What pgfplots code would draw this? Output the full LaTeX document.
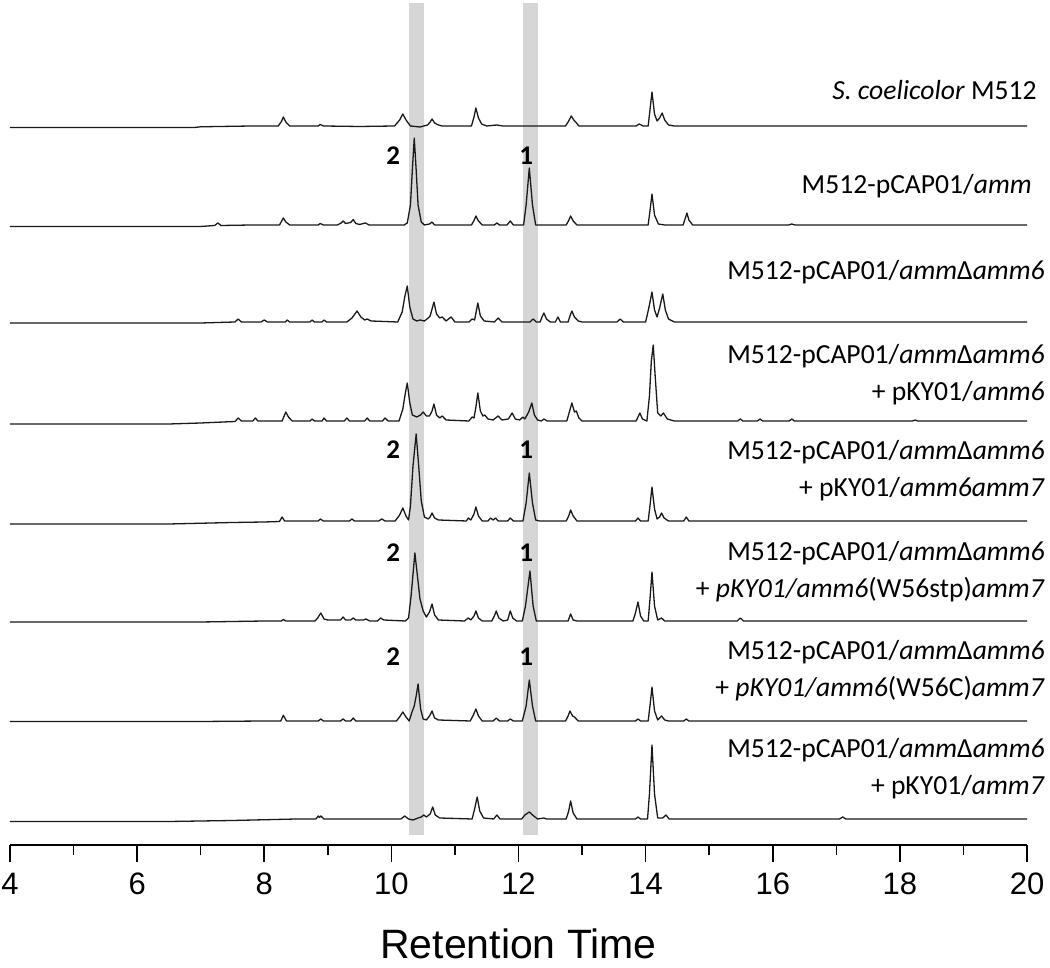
\documentclass[border=0pt]{standalone}
\usepackage{pgfplots}
\pgfplotsset{compat=1.18}
\usepackage{fontspec}
\setmainfont{Liberation Sans}
\newfontfamily\calfont{Carlito}
\definecolor{band}{HTML}{D6D6D6}
\begin{document}
\begin{tikzpicture}
\begin{axis}[
  scale only axis, width=508.5pt, height=422.5pt,
  xmin=4, xmax=20, ymin=0, ymax=845,
  axis x line*=bottom, hide y axis, clip=false,
  xtick={4,6,...,20}, minor xtick={5,7,...,19},
  tick align=outside, major tick length=8.5pt, minor tick length=5pt,
  every tick/.style={black, line width=0.8pt},
  x axis line style={line width=1.3pt},
  xticklabel style={font=\fontsize{15.5}{18}\selectfont, yshift=-2pt},
  /pgf/number format/assume math mode=true,
  xlabel={Retention Time},
  xlabel style={at={(axis description cs:0.5,0)}, anchor=center, yshift=-49.5pt, font=\fontsize{20.5}{24}\selectfont},
]
\addplot[fill=band, draw=none] coordinates {(10.28,10) (10.51,10) (10.51,842) (10.28,842)} -- cycle;
\addplot[fill=band, draw=none] coordinates {(12.07,10) (12.30,10) (12.30,842) (12.07,842)} -- cycle;

\pgfplotsset{trace/.style={black!90, line width=0.65pt, line join=round}}
% Trace 1
\addplot[trace] table[y expr=\thisrowno{1}+719] {
4.00 -1.5
6.9 -1.5
7.0 -0.8
7.8 0
8.22 0
8.27 4.5
8.30 9
8.34 4
8.40 0
8.85 0
8.88 1.5
8.93 0
9.5 -0.5
10.05 0
10.13 6
10.18 12
10.23 6
10.30 0
10.45 -1
10.57 1
10.61 4
10.64 7
10.68 3
10.74 1
10.80 0
11.26 0
11.30 9
11.33 18
11.37 8
11.42 2
11.50 0
11.66 1
11.75 0
12.74 0
12.79 5
12.83 10
12.87 6
12.90 4
12.95 0
13.85 0
13.90 2
13.96 0
14.04 0
14.07 17
14.10 34
14.14 12
14.18 5
14.22 8
14.26 13
14.30 6
14.36 1
14.45 0
20.00 0
};
% Trace 2
\addplot[trace] table[y expr=\thisrowno{1}+620] {
4.00 -1.5
7.0 -1.5
7.22 -0.5
7.27 2
7.32 -0.5
7.8 0
8.24 0
8.27 3.5
8.30 7
8.34 3
8.40 0
8.85 0
8.88 1.5
8.93 0
9.15 0
9.21 2
9.24 4
9.28 1.5
9.36 2.5
9.40 5.5
9.44 1.5
9.50 0.5
9.59 2
9.65 0
10.20 0
10.25 2
10.30 20
10.33 55
10.36 87
10.39 55
10.42 20
10.47 3
10.52 0
10.60 1
10.64 3
10.68 0
11.26 0
11.30 4.5
11.33 9
11.37 4
11.43 0
11.62 0
11.66 2
11.70 0
11.82 0
11.87 4
11.92 0
12.08 0
12.12 20
12.17 57
12.22 20
12.27 0
12.75 0
12.79 4.5
12.82 9
12.86 4
12.92 0
14.04 0
14.07 15
14.10 31
14.14 10
14.20 1
14.30 0
14.59 0
14.62 6
14.65 12
14.68 5
14.74 0
16.25 0
16.30 1
16.35 0
20 0
};
% Trace 3
\addplot[trace] table[y expr=\thisrowno{1}+523] {
4.0 -1
7.0 -1
7.54 0
7.59 3
7.64 0
7.95 0
8.00 2
8.05 0
8.33 0
8.36 2
8.40 0
8.72 0
8.75 2
8.79 0
8.91 0
8.94 2
8.98 0
9.30 0
9.38 4
9.46 11
9.52 5
9.58 2
9.62 3
9.68 1
10.10 0
10.17 10
10.21 25
10.25 36
10.29 15
10.34 3
10.40 1
10.45 2
10.52 1
10.58 4
10.61 6
10.67 20
10.71 8
10.76 4
10.80 5
10.86 1
10.94 5
11.00 0
11.22 0
11.27 3
11.31 2
11.36 19
11.40 6
11.46 1
11.62 0
11.68 4
11.74 0
12.18 0
12.23 3
12.28 0
12.34 0
12.37 5
12.40 9
12.44 3
12.50 0
12.58 0
12.62 5
12.66 0
12.78 0
12.81 6
12.84 11
12.88 5
12.94 1
13.00 0
13.55 0
13.60 3
13.65 0
14.00 0
14.05 14
14.10 30
14.14 12
14.18 5
14.22 14
14.27 28
14.31 12
14.36 3
14.45 0
20 0
};
% Trace 4
\addplot[trace] table[y expr=\thisrowno{1}+424] {
4.0 -3
6.5 -3
7.0 -2
7.54 -0.5
7.59 3
7.64 0
7.82 0
7.86 3
7.90 0
8.28 0
8.31 4.5
8.34 9
8.38 4
8.44 0
8.72 0
8.75 2
8.79 0
8.91 0
8.94 3
8.98 0
9.26 0
9.30 3
9.34 0
9.58 0
9.62 3
9.66 0
9.86 0
9.90 3
9.95 0
10.12 0
10.18 12
10.22 28
10.25 38
10.29 18
10.33 6
10.40 4
10.46 6
10.50 9
10.55 5
10.60 5
10.64 10
10.67 17
10.71 6
10.76 3
10.80 5
10.86 1
11.22 0
11.27 4
11.30 3
11.33 14
11.36 28
11.40 10
11.44 5
11.47 6
11.52 2
11.60 1
11.68 5
11.74 1
11.84 2
11.90 8
11.95 2
12.02 1
12.07 4
12.10 2
12.16 9
12.21 18
12.25 6
12.30 1
12.36 0
12.40 2
12.45 0
12.76 0
12.80 9
12.84 18
12.88 9
12.91 10
12.95 3
13.00 0
13.85 0
13.88 4
13.91 8
13.95 2
14.02 0
14.06 25
14.09 60
14.12 76
14.15 45
14.19 8
14.24 5
14.28 8
14.34 2
14.45 0
15.45 0
15.49 2
15.53 0
15.76 0
15.80 2
15.84 0
16.26 0
16.30 2
16.34 0
18.20 0
18.24 1
18.28 0
20 0
};
% Trace 5
\addplot[trace] table[y expr=\thisrowno{1}+324] {
4.0 -3
6.5 -3
7.5 -1.5
8.0 -1
8.24 -0.5
8.28 4
8.32 0
8.85 0
8.88 2
8.93 0
9.34 0
9.38 2
9.42 0
9.80 0
9.85 2
9.90 0
10.06 0
10.13 6
10.18 13
10.23 5
10.27 1
10.30 15
10.34 55
10.39 87
10.43 55
10.47 20
10.52 4
10.58 2
10.61 4
10.64 8
10.68 3
10.74 1
11.18 0
11.21 3
11.25 1
11.30 7
11.33 14
11.37 5
11.43 0
11.52 0
11.56 3
11.60 1
11.64 3
11.68 0
11.83 0
11.87 3
11.92 0
12.07 0
12.12 18
12.17 48
12.22 18
12.27 1
12.33 0
12.75 0
12.79 5
12.82 11
12.86 5
12.92 0
13.84 0
13.88 3
13.92 0
14.04 0
14.07 16
14.10 34
14.14 12
14.18 2
14.22 4
14.25 8
14.29 3
14.36 0
14.60 0
14.64 4
14.68 0
20 0
};
% Trace 6
\addplot[trace] table[y expr=\thisrowno{1}+224] {
4.0 -1
7.0 -1
8.0 0
8.27 0
8.30 1.5
8.34 0
8.80 0
8.84 3
8.89 8
8.94 2
9.00 1
9.20 1
9.24 4
9.28 1
9.36 1
9.40 3
9.44 1
9.56 1
9.60 2
9.66 0
9.78 0
9.83 3
9.88 1
10.22 0
10.27 3
10.31 25
10.37 68
10.41 45
10.45 22
10.50 10
10.55 4
10.60 9
10.64 17
10.68 6
10.74 1
11.15 0
11.21 3
11.25 1
11.30 5
11.33 10
11.37 3
11.43 0
11.58 0
11.62 5
11.65 10
11.69 3
11.76 0
11.83 1
11.87 10
11.91 3
11.97 0
12.06 0
12.11 15
12.18 50
12.23 15
12.28 0
12.78 0
12.82 7
12.86 1
12.92 0
13.80 0
13.84 8
13.88 19
13.92 5
13.97 0
14.04 0
14.07 23
14.10 49
14.14 15
14.19 1
14.25 3
14.30 0
15.44 0
15.49 3
15.54 0
20 0
};
% Trace 7
\addplot[trace] table[y expr=\thisrowno{1}+124] {
4.0 -0.5
7.0 -0.5
8.0 0
8.26 0
8.30 5.7
8.35 0
8.85 0
8.89 2
8.93 0
9.20 0
9.24 2
9.28 0
9.36 0
9.40 3
9.44 0
10.08 0
10.14 5
10.18 9
10.23 4
10.28 0
10.33 10
10.36 15
10.39 25
10.42 37
10.46 12
10.50 2
10.55 1
10.60 5
10.64 10
10.68 3
10.74 1
11.24 0
11.29 6
11.33 12
11.37 5
11.43 0
11.60 0
11.65 3
11.70 0
11.83 0
11.87 2
11.92 0
12.06 0
12.12 15
12.17 41
12.22 15
12.27 0
12.74 0
12.78 5
12.81 10
12.85 5
12.88 4
12.94 0
13.84 0
13.88 2
13.92 0
14.04 0
14.07 16
14.10 34
14.14 10
14.19 1
14.25 5
14.30 1
14.36 0
14.60 0
14.64 2
14.68 0
20 0
};
% Trace 8
\addplot[trace] table[y expr=\thisrowno{1}+26] {
4.0 -2.5
6.5 -2.5
7.5 -1.5
8.5 0
8.81 0
8.85 3
8.87 1.5
8.89 3
8.94 0
10.15 0
10.21 3
10.27 0
10.34 -1
10.42 1
10.47 2
10.51 4
10.55 2
10.61 5
10.65 12
10.69 4
10.76 1
11.27 0
11.31 10
11.35 22
11.39 8
11.45 1
11.61 0
11.66 4
11.71 0
12.05 0
12.10 4
12.17 7
12.24 3
12.30 0
12.40 1
12.44 0
12.75 0
12.79 8
12.82 18
12.86 6
12.92 0
13.84 0
13.88 2
13.92 0
14.03 0
14.06 25
14.10 74
14.14 25
14.19 1
14.27 1
14.32 4
14.37 0
17.05 0
17.10 2
17.15 0
20 0
};

% Trace labels
\tikzset{lab/.style={anchor=base east, inner sep=0pt, font=\calfont\fontsize{13.8}{16}\selectfont},
         num/.style={anchor=center, inner sep=0pt, font=\calfont\bfseries\fontsize{13.5}{16}\selectfont}}
\node[lab] at (axis cs:20.158,745) {\textit{S. coelicolor} M512};
\node[lab] at (axis cs:20.08,651) {M512-pCAP01/\textit{amm}};
\node[lab] at (axis cs:20.284,565) {M512-pCAP01/\textit{amm}Δ\textit{amm6}};
\node[lab] at (axis cs:20.284,481) {M512-pCAP01/\textit{amm}Δ\textit{amm6}};
\node[lab] at (axis cs:20.284,444) {+ pKY01/\textit{amm6}};
\node[lab] at (axis cs:20.284,385) {M512-pCAP01/\textit{amm}Δ\textit{amm6}};
\node[lab] at (axis cs:20.284,348) {+ pKY01/\textit{amm6amm7}};
\node[lab] at (axis cs:20.284,284) {M512-pCAP01/\textit{amm}Δ\textit{amm6}};
\node[lab] at (axis cs:20.284,247) {+ \textit{pKY01/amm6}(W56stp)\textit{amm7}};
\node[lab] at (axis cs:20.284,185) {M512-pCAP01/\textit{amm}Δ\textit{amm6}};
\node[lab] at (axis cs:20.284,148) {+ \textit{pKY01/amm6}(W56C)\textit{amm7}};
\node[lab] at (axis cs:20.284,87) {M512-pCAP01/\textit{amm}Δ\textit{amm6}};
\node[lab] at (axis cs:20.284,50) {+ pKY01/\textit{amm7}};

\node[num] at (axis cs:10.03,689) {2};
\node[num] at (axis cs:12.12,689) {1};
\node[num] at (axis cs:10.03,395) {2};
\node[num] at (axis cs:12.12,395) {1};
\node[num] at (axis cs:10.03,292) {2};
\node[num] at (axis cs:12.12,292) {1};
\node[num] at (axis cs:10.03,188) {2};
\node[num] at (axis cs:12.12,188) {1};
\end{axis}
\pgfresetboundingbox
\path (-5pt,-61.5pt) rectangle (520pt,422.5pt);
\end{tikzpicture}
\end{document}
